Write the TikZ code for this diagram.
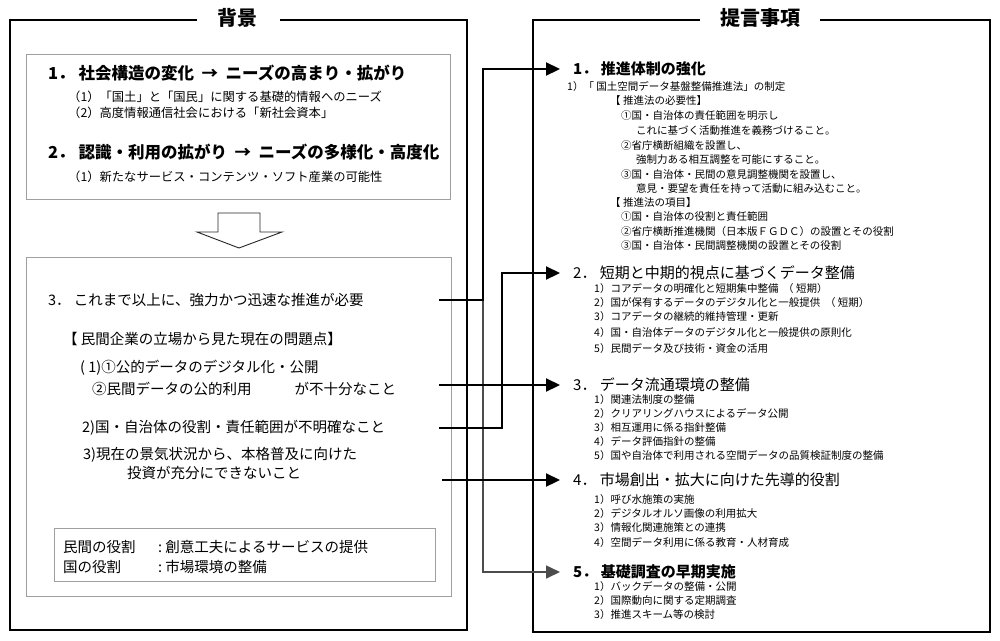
\documentclass[tikz,border=0pt]{standalone}
\usepackage{fontspec}
\setmainfont{Noto Sans CJK JP}
\usetikzlibrary{arrows.meta}

\begin{document}
\begin{tikzpicture}[x=1pt,y=-1pt,
  every node/.style={inner sep=0pt,anchor=west},
  titletext/.style={anchor=center,font=\fontsize{20}{22}\selectfont\bfseries},
  headbold/.style={font=\fontsize{16.5}{19}\selectfont\bfseries},
  rheadbold/.style={font=\fontsize{15}{18}\selectfont\bfseries},
  headtext/.style={font=\fontsize{15}{18}\selectfont},
  midtext/.style={font=\fontsize{14.5}{17}\selectfont},
  subtext/.style={font=\fontsize{12.3}{14}\selectfont},
  itemtext/.style={font=\fontsize{10.5}{12}\selectfont},
  frame/.style={draw=black,line width=1.3pt},
  grayframe/.style={draw=gray!75,line width=1pt},
  link/.style={line width=2.2pt,-{Triangle[length=14pt,width=13pt]}},
  graylink/.style={draw=gray!60!black,line width=1.6pt,-{Triangle[length=14pt,width=13pt]}}]
\useasboundingbox (0,0) rectangle (1000,640);
\fill[white] (0,0) rectangle (1000,640);

\node[titletext] (bgtitle) at (237,18) {背景};
\draw[frame] (197,20) -| (10,630) -| (467,20) -- (280,20);
\draw[grayframe] (26,54) rectangle (450,199);
\node[headbold] (bgA) at (48,73) {1．~社会構造の変化~~→~~ニーズの高まり・拡がり};
\node[subtext] (bgA1) at (68,97) {（1）「国土」と「国民」に関する基礎的情報へのニーズ};
\node[subtext] (bgA2) at (68,113) {（2）高度情報通信社会における「新社会資本」};
\node[headbold] (bgB) at (48,152) {2．~認識・利用の拡がり~~→~~ニーズの多様化・高度化};
\node[subtext] (bgB1) at (68,177) {（1）新たなサービス・コンテンツ・ソフト産業の可能性};

\draw[draw=gray!30!black,line width=0.9pt] (218,213) -- (260,213) -- (260,232) -- (282,232)
  -- (239,248) -- (197,232) -- (218,232) -- cycle;

\draw[grayframe] (26,257) rectangle (451,596);
\node[midtext] (need) at (48,300) {3．~これまで以上に、強力かつ迅速な推進が必要};
\node[midtext] (issue) at (63,339) {【~民間企業の立場から見た現在の問題点】};
\node[midtext] (issA) at (80,368) {( 1)①公的データのデジタル化・公開};
\node[midtext] (issB) at (92,389) {②民間データの公的利用\hspace{43pt}が不十分なこと};
\node[midtext] (issC) at (82,428) {2)国・自治体の役割・責任範囲が不明確なこと};
\node[midtext] (issD) at (83,455) {3)現在の景気状況から、本格普及に向けた};
\node[midtext] (issE) at (127,473) {投資が充分にできないこと};
\draw[grayframe] (54,528) rectangle (435,581);
\node[midtext] (roleA) at (63,547) {\makebox[95pt][l]{民間の役割}:~創意工夫によるサービスの提供};
\node[midtext] (roleB) at (63,567) {\makebox[95pt][l]{国の役割}:~市場環境の整備};

\node[titletext] (proptitle) at (760,18) {提言事項};
\draw[frame] (700,20) -| (533,632) -| (990,20) -- (820,20);

\node[rheadbold] (h1) at (573,69) {1．~推進体制の強化};
\node[itemtext] (p11) at (567,87) {1）「~国土空間データ基盤整備推進法」の制定};
\node[itemtext] (p12) at (610,101) {【~推進法の必要性】};
\node[itemtext] (p13) at (621,116) {①国・自治体の責任範囲を明示し};
\node[itemtext] (p14) at (636,131) {これに基づく活動推進を義務づけること。};
\node[itemtext] (p15) at (621,146) {②省庁横断組織を設置し、};
\node[itemtext] (p16) at (636,160) {強制力ある相互調整を可能にすること。};
\node[itemtext] (p17) at (621,175) {③国・自治体・民間の意見調整機関を設置し、};
\node[itemtext] (p18) at (636,189) {意見・要望を責任を持って活動に組み込むこと。};
\node[itemtext] (p19) at (610,203) {【~推進法の項目】};
\node[itemtext] (p110) at (621,217) {①国・自治体の役割と責任範囲};
\node[itemtext] (p111) at (621,232) {②省庁横断推進機関（日本版ＦＧＤＣ）の設置とその役割};
\node[itemtext] (p112) at (621,246) {③国・自治体・民間調整機関の設置とその役割};

\node[headtext] (h2) at (573,273) {2．~短期と中期的視点に基づくデータ整備};
\node[itemtext] (p21) at (594,289) {1）コアデータの明確化と短期集中整備~~（~短期）};
\node[itemtext] (p22) at (594,303) {2）国が保有するデータのデジタル化と一般提供~~（~短期）};
\node[itemtext] (p23) at (594,317) {3）コアデータの継続的維持管理・更新};
\node[itemtext] (p24) at (594,333) {4）国・自治体データのデジタル化と一般提供の原則化};
\node[itemtext] (p25) at (594,349) {5）民間データ及び技術・資金の活用};

\node[headtext] (h3) at (573,385) {3．~データ流通環境の整備};
\node[itemtext] (p31) at (594,400) {1）関連法制度の整備};
\node[itemtext] (p32) at (594,414) {2）クリアリングハウスによるデータ公開};
\node[itemtext] (p33) at (594,428) {3）相互運用に係る指針整備};
\node[itemtext] (p34) at (594,442) {4）データ評価指針の整備};
\node[itemtext] (p35) at (594,456) {5）国や自治体で利用される空間データの品質検証制度の整備};

\node[headtext] (h4) at (573,480) {4．~市場創出・拡大に向けた先導的役割};
\node[itemtext] (p41) at (594,500) {1）呼び水施策の実施};
\node[itemtext] (p42) at (594,514) {2）デジタルオルソ画像の利用拡大};
\node[itemtext] (p43) at (594,528) {3）情報化関連施策との連携};
\node[itemtext] (p44) at (594,542) {4）空間データ利用に係る教育・人材育成};

\node[rheadbold] (h5) at (573,572) {5．~基礎調査の早期実施};
\node[itemtext] (p51) at (594,586) {1）バックデータの整備・公開};
\node[itemtext] (p52) at (594,600) {2）国際動向に関する定期調査};
\node[itemtext] (p53) at (594,614) {3）推進スキーム等の検討};

\coordinate (fromneed) at (439,300);
\coordinate (joinneed) at (483,300);
\coordinate (fromissA) at (439,385);
\coordinate (fromissC) at (439,428);
\coordinate (joinissC) at (502,428);
\coordinate (fromissD) at (442,480);
\draw[graylink] (joinneed) |- ([xshift=-13pt]h5.west);
\draw[link] (fromneed) -- (joinneed) |- ([xshift=-13pt]h1.west);
\draw[link] (fromissC) -- (joinissC) |- ([xshift=-13pt]h2.west);
\draw[link] (fromissA) -- ([xshift=-13pt]h3.west);
\draw[link] (fromissD) -- ([xshift=-13pt]h4.west);
\end{tikzpicture}
\end{document}
